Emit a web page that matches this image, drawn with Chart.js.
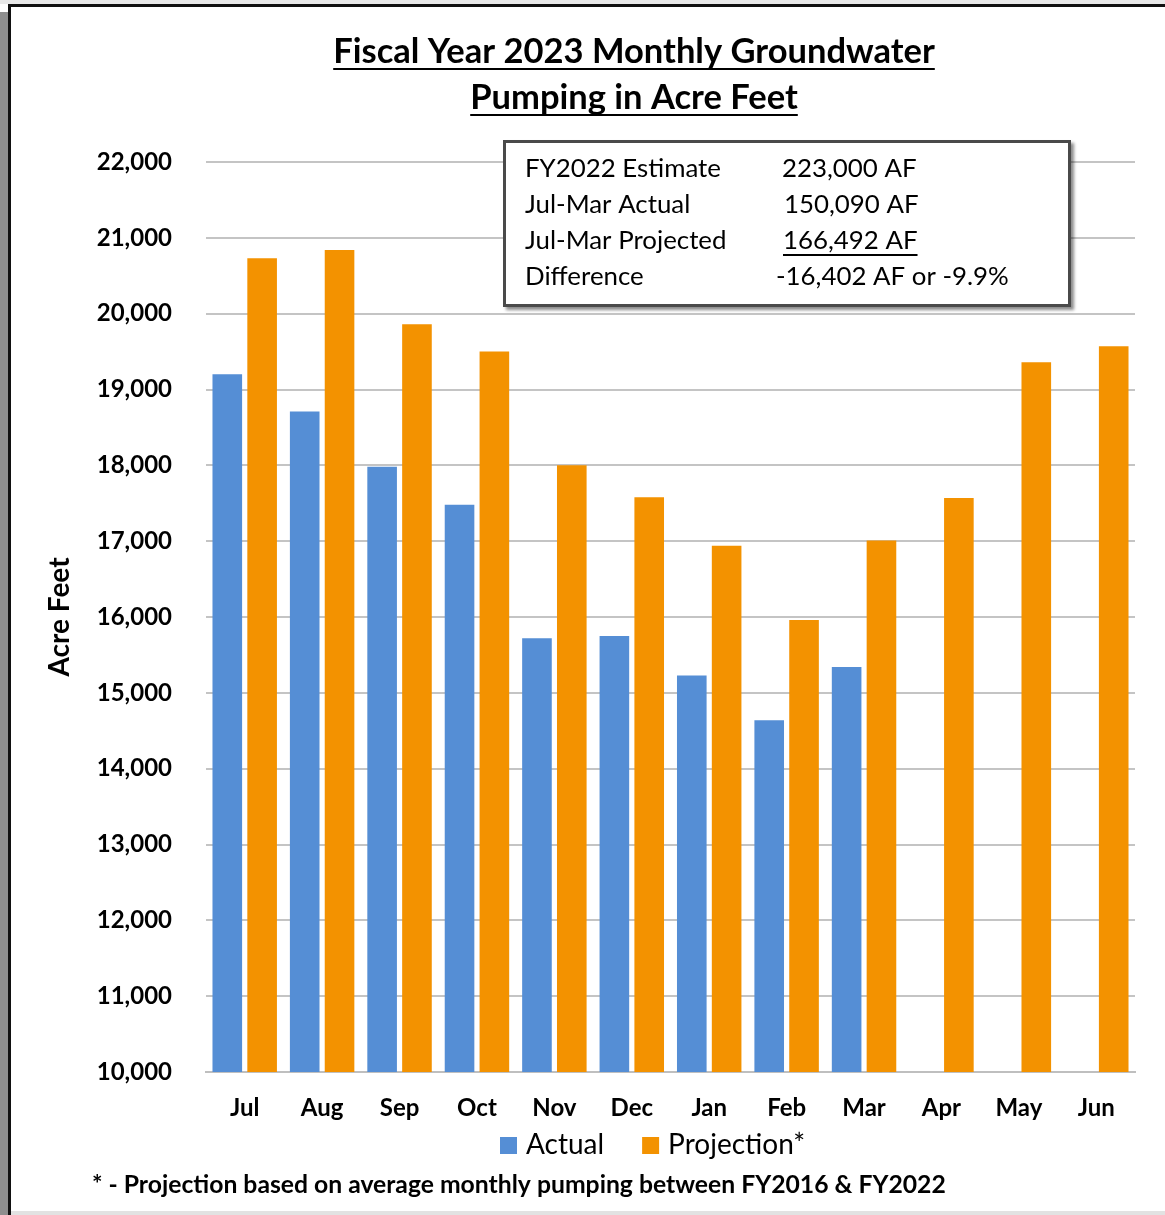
<!DOCTYPE html>
<html>
<head>
<meta charset="utf-8">
<script src="https://cdn.jsdelivr.net/npm/chart.js@4.4.1/dist/chart.umd.min.js"></script>
<style>
  html, body { margin: 0; padding: 0; background: #fff; }
  #wrap { position: relative; width: 1165px; height: 1215px; }
</style>
</head>
<body>
<div id="wrap"><canvas id="chart"></canvas></div>
<script>
const months = ['Jul', 'Aug', 'Sep', 'Oct', 'Nov', 'Dec', 'Jan', 'Feb', 'Mar', 'Apr', 'May', 'Jun'];
const actual = [19200, 18710, 17980, 17480, 15720, 15750, 15230, 14640, 15340, null, null, null];
const projection = [20730, 20840, 19860, 19500, 18000, 17580, 16940, 15960, 17010, 17570, 19360, 19570];
const seriesNames = ['Actual', 'Projection*'];

const titleLines = ['Fiscal Year 2023 Monthly Groundwater', 'Pumping in Acre Feet'];
const boxLabels = ['FY2022 Estimate', 'Jul-Mar Actual', 'Jul-Mar Projected', 'Difference'];
const boxValues = ['223,000 AF', '150,090 AF', '166,492 AF', '-16,402 AF or -9.9%'];
const footnote = '* - Projection based on average monthly pumping between FY2016 & FY2022';

const FONT = 'Lato, "Open Sans", sans-serif';

// pick a font size so the text spans the given width
function fitSize(ctx, text, weight, width) {
  ctx.font = `${weight} 100px ${FONT}`;
  return 100 * width / ctx.measureText(text).width;
}

const framePlugin = {
  id: 'frame',
  beforeDraw(chart) {
    const { ctx, width, height } = chart;
    ctx.save();
    ctx.fillStyle = '#fff';
    ctx.fillRect(0, 0, width, height);
    ctx.fillStyle = '#e8e8e8';
    ctx.fillRect(0, 0, width, 4);
    ctx.fillStyle = '#8e8e8e';
    ctx.fillRect(0, 12, 8, height);
    ctx.fillStyle = '#111';
    ctx.fillRect(8, 4, 3, height);
    ctx.fillRect(8, 4, width, 3);
    ctx.fillStyle = '#e2e2e2';
    ctx.fillRect(11, 1211, width, 4);
    ctx.restore();
  },
};

const notesPlugin = {
  id: 'notes',
  afterDraw(chart) {
    const { ctx } = chart;
    ctx.save();
    ctx.fillStyle = '#000';
    ctx.strokeStyle = '#000';
    ctx.textBaseline = 'alphabetic';

    // title, underlined
    const size1 = fitSize(ctx, titleLines[0], 'bold', 602);
    ctx.font = `bold ${size1}px ${FONT}`;
    ctx.textAlign = 'center';
    const baselines = [63, 109];
    titleLines.forEach((t, i) => {
      ctx.fillText(t, 634, baselines[i]);
      const w = ctx.measureText(t).width;
      ctx.lineWidth = 2;
      ctx.beginPath();
      ctx.moveTo(634 - w / 2, baselines[i] + 6);
      ctx.lineTo(634 + w / 2, baselines[i] + 6);
      ctx.stroke();
    });

    // summary box
    ctx.save();
    ctx.shadowColor = 'rgba(0,0,0,0.45)';
    ctx.shadowOffsetX = 3;
    ctx.shadowOffsetY = 3;
    ctx.shadowBlur = 3;
    ctx.fillStyle = '#fff';
    ctx.fillRect(503, 140, 568, 167);
    ctx.restore();
    ctx.lineWidth = 3;
    ctx.strokeStyle = '#4a4a4a';
    ctx.strokeRect(504.5, 141.5, 565, 164);

    const boxSize = fitSize(ctx, boxLabels[0], 'normal', 196);
    ctx.font = `normal ${boxSize}px ${FONT}`;
    ctx.textAlign = 'left';
    ctx.fillStyle = '#000';
    const rowY = [177, 213, 249, 285];
    const valX = [782, 784, 783, 776];
    boxLabels.forEach((t, i) => {
      ctx.fillText(t, 525, rowY[i]);
      ctx.fillText(boxValues[i], valX[i], rowY[i]);
    });
    const uw = ctx.measureText(boxValues[2]).width;
    ctx.lineWidth = 2;
    ctx.strokeStyle = '#000';
    ctx.beginPath();
    ctx.moveTo(valX[2], rowY[2] + 6);
    ctx.lineTo(valX[2] + uw, rowY[2] + 6);
    ctx.stroke();

    // legend, from the datasets
    ctx.font = `normal 28px ${FONT}`;
    ctx.textBaseline = 'middle';
    let lx = 500;
    chart.data.datasets.forEach(ds => {
      ctx.fillStyle = ds.backgroundColor;
      ctx.fillRect(lx, 1137, 17, 17);
      ctx.fillStyle = '#000';
      ctx.fillText(ds.label, lx + 26, 1145);
      lx += 26 + ctx.measureText(ds.label).width + 38;
    });

    // footnote
    ctx.textBaseline = 'alphabetic';
    const fs = fitSize(ctx, footnote, 'bold', 854);
    ctx.font = `bold ${fs}px ${FONT}`;
    ctx.fillText(footnote, 92, 1193);
    ctx.restore();
  },
};

new Chart(document.getElementById('chart'), {
  type: 'bar',
  data: {
    labels: months,
    datasets: [
      { label: seriesNames[0], data: actual, backgroundColor: '#558ed5' },
      { label: seriesNames[1], data: projection, backgroundColor: '#f39200' },
    ],
  },
  options: {
    responsive: true,
    maintainAspectRatio: false,
    animation: false,
    categoryPercentage: 0.9,
    barPercentage: 0.85,
    layout: { padding: { top: 162, right: 30, left: 0, bottom: 88 } },
    plugins: {
      legend: { display: false },
      tooltip: { enabled: false },
    },
    scales: {
      x: {
        grid: { display: false, drawTicks: false },
        border: { display: true, color: '#bfbfbf', width: 2 },
        ticks: { font: { family: FONT, size: 24, weight: 'bold' }, color: '#000', padding: 22 },
        afterFit(scale) { scale.height = 55; },
      },
      y: {
        min: 10000,
        max: 22000,
        ticks: {
          stepSize: 1000,
          padding: 34,
          font: { family: FONT, size: 24, weight: 'bold' },
          color: '#000',
          callback: v => v.toLocaleString('en-US'),
        },
        grid: { color: '#c4c4c4', lineWidth: 2, drawTicks: false },
        border: { display: false },
        title: {
          display: true,
          text: 'Acre Feet',
          font: { family: FONT, size: 28, weight: 'bold' },
          color: '#000',
          padding: { top: 43, bottom: 0 },
        },
        afterFit(scale) { scale.width = 206; },
      },
    },
  },
  plugins: [framePlugin, notesPlugin],
});
</script>
</body>
</html>
